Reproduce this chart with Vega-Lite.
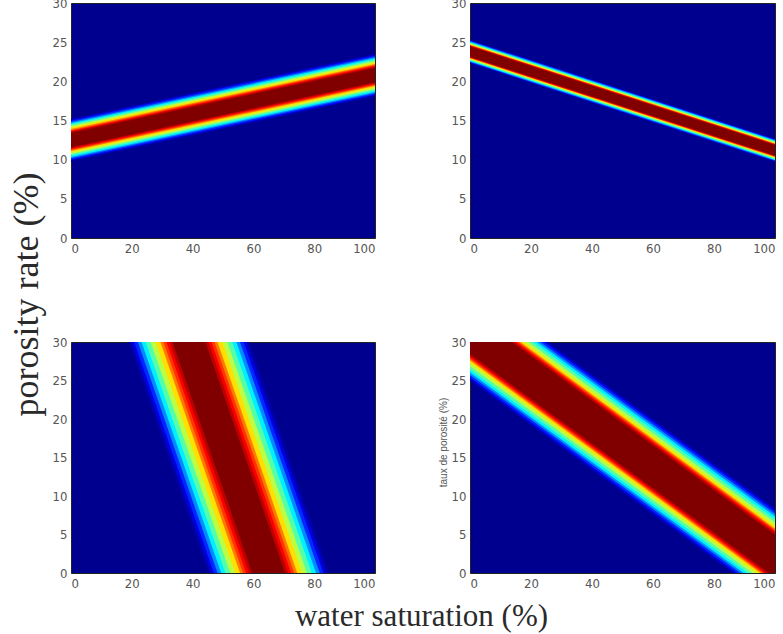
{
  "$schema": "https://vega.github.io/schema/vega-lite/v6.json",
  "background": "white",
  "padding": {"left": 7, "top": -4, "right": 5, "bottom": 5},
  "datasets": {
    "tl": [
      {"t": 0.02, "x": 0, "lo": 9.75, "hi": 15.25}, {"t": 0.02, "x": 100, "lo": 18.05, "hi": 23.55},
      {"t": 0.08, "x": 0, "lo": 9.89, "hi": 15.11}, {"t": 0.08, "x": 100, "lo": 18.19, "hi": 23.41},
      {"t": 0.15, "x": 0, "lo": 10.02, "hi": 14.98}, {"t": 0.15, "x": 100, "lo": 18.32, "hi": 23.28},
      {"t": 0.25, "x": 0, "lo": 10.19, "hi": 14.81}, {"t": 0.25, "x": 100, "lo": 18.49, "hi": 23.11},
      {"t": 0.35, "x": 0, "lo": 10.35, "hi": 14.65}, {"t": 0.35, "x": 100, "lo": 18.65, "hi": 22.95},
      {"t": 0.45, "x": 0, "lo": 10.52, "hi": 14.48}, {"t": 0.45, "x": 100, "lo": 18.82, "hi": 22.78},
      {"t": 0.55, "x": 0, "lo": 10.71, "hi": 14.29}, {"t": 0.55, "x": 100, "lo": 19.01, "hi": 22.59},
      {"t": 0.65, "x": 0, "lo": 10.90, "hi": 14.10}, {"t": 0.65, "x": 100, "lo": 19.20, "hi": 22.40},
      {"t": 0.75, "x": 0, "lo": 11.10, "hi": 13.90}, {"t": 0.75, "x": 100, "lo": 19.40, "hi": 22.20},
      {"t": 0.82, "x": 0, "lo": 11.23, "hi": 13.77}, {"t": 0.82, "x": 100, "lo": 19.53, "hi": 22.07},
      {"t": 0.88, "x": 0, "lo": 11.34, "hi": 13.66}, {"t": 0.88, "x": 100, "lo": 19.64, "hi": 21.96},
      {"t": 0.94, "x": 0, "lo": 11.45, "hi": 13.55}, {"t": 0.94, "x": 100, "lo": 19.75, "hi": 21.85},
      {"t": 1.00, "x": 0, "lo": 11.59, "hi": 13.41}, {"t": 1.00, "x": 100, "lo": 19.89, "hi": 21.71}
    ],
    "tr": [
      {"t": 0.02, "x": 0, "lo": 22.30, "hi": 25.30}, {"t": 0.02, "x": 100, "lo": 9.70, "hi": 12.70},
      {"t": 0.08, "x": 0, "lo": 22.36, "hi": 25.24}, {"t": 0.08, "x": 100, "lo": 9.76, "hi": 12.64},
      {"t": 0.15, "x": 0, "lo": 22.42, "hi": 25.18}, {"t": 0.15, "x": 100, "lo": 9.82, "hi": 12.58},
      {"t": 0.25, "x": 0, "lo": 22.49, "hi": 25.11}, {"t": 0.25, "x": 100, "lo": 9.89, "hi": 12.51},
      {"t": 0.35, "x": 0, "lo": 22.57, "hi": 25.03}, {"t": 0.35, "x": 100, "lo": 9.97, "hi": 12.43},
      {"t": 0.45, "x": 0, "lo": 22.66, "hi": 24.94}, {"t": 0.45, "x": 100, "lo": 10.06, "hi": 12.34},
      {"t": 0.55, "x": 0, "lo": 22.76, "hi": 24.84}, {"t": 0.55, "x": 100, "lo": 10.16, "hi": 12.24},
      {"t": 0.65, "x": 0, "lo": 22.87, "hi": 24.73}, {"t": 0.65, "x": 100, "lo": 10.27, "hi": 12.13},
      {"t": 0.75, "x": 0, "lo": 22.94, "hi": 24.66}, {"t": 0.75, "x": 100, "lo": 10.34, "hi": 12.06},
      {"t": 0.82, "x": 0, "lo": 22.99, "hi": 24.61}, {"t": 0.82, "x": 100, "lo": 10.39, "hi": 12.01},
      {"t": 0.88, "x": 0, "lo": 23.03, "hi": 24.57}, {"t": 0.88, "x": 100, "lo": 10.43, "hi": 11.97},
      {"t": 0.94, "x": 0, "lo": 23.08, "hi": 24.52}, {"t": 0.94, "x": 100, "lo": 10.48, "hi": 11.92},
      {"t": 1.00, "x": 0, "lo": 23.14, "hi": 24.46}, {"t": 1.00, "x": 100, "lo": 10.54, "hi": 11.86}
    ],
    "bl": [
      {"t": 0.02, "y": 0, "lo": 45.0, "hi": 85.0}, {"t": 0.02, "y": 30, "lo": 18.8, "hi": 58.8},
      {"t": 0.08, "y": 0, "lo": 46.0, "hi": 84.0}, {"t": 0.08, "y": 30, "lo": 19.8, "hi": 57.8},
      {"t": 0.15, "y": 0, "lo": 47.0, "hi": 83.0}, {"t": 0.15, "y": 30, "lo": 20.8, "hi": 56.8},
      {"t": 0.25, "y": 0, "lo": 48.2, "hi": 81.8}, {"t": 0.25, "y": 30, "lo": 22.0, "hi": 55.6},
      {"t": 0.35, "y": 0, "lo": 49.4, "hi": 80.6}, {"t": 0.35, "y": 30, "lo": 23.2, "hi": 54.4},
      {"t": 0.45, "y": 0, "lo": 50.8, "hi": 79.2}, {"t": 0.45, "y": 30, "lo": 24.6, "hi": 53.0},
      {"t": 0.55, "y": 0, "lo": 52.4, "hi": 77.6}, {"t": 0.55, "y": 30, "lo": 26.2, "hi": 51.4},
      {"t": 0.65, "y": 0, "lo": 54.0, "hi": 76.0}, {"t": 0.65, "y": 30, "lo": 27.8, "hi": 49.8},
      {"t": 0.75, "y": 0, "lo": 55.6, "hi": 74.4}, {"t": 0.75, "y": 30, "lo": 29.4, "hi": 48.2},
      {"t": 0.82, "y": 0, "lo": 56.6, "hi": 73.4}, {"t": 0.82, "y": 30, "lo": 30.4, "hi": 47.2},
      {"t": 0.88, "y": 0, "lo": 57.6, "hi": 72.4}, {"t": 0.88, "y": 30, "lo": 31.4, "hi": 46.2},
      {"t": 0.94, "y": 0, "lo": 58.6, "hi": 71.4}, {"t": 0.94, "y": 30, "lo": 32.4, "hi": 45.2},
      {"t": 1.00, "y": 0, "lo": 59.6, "hi": 70.4}, {"t": 1.00, "y": 30, "lo": 33.4, "hi": 44.2}
    ],
    "br": [
      {"t": 0.02, "x": 0, "lo": 24.90, "hi": 37.50}, {"t": 0.02, "x": 100, "lo": -4.10, "hi": 8.50},
      {"t": 0.08, "x": 0, "lo": 25.15, "hi": 37.25}, {"t": 0.08, "x": 100, "lo": -3.85, "hi": 8.25},
      {"t": 0.15, "x": 0, "lo": 25.40, "hi": 37.00}, {"t": 0.15, "x": 100, "lo": -3.60, "hi": 8.00},
      {"t": 0.25, "x": 0, "lo": 25.72, "hi": 36.68}, {"t": 0.25, "x": 100, "lo": -3.28, "hi": 7.68},
      {"t": 0.35, "x": 0, "lo": 26.03, "hi": 36.37}, {"t": 0.35, "x": 100, "lo": -2.97, "hi": 7.37},
      {"t": 0.45, "x": 0, "lo": 26.41, "hi": 35.99}, {"t": 0.45, "x": 100, "lo": -2.59, "hi": 6.99},
      {"t": 0.55, "x": 0, "lo": 26.85, "hi": 35.55}, {"t": 0.55, "x": 100, "lo": -2.15, "hi": 6.55},
      {"t": 0.65, "x": 0, "lo": 27.29, "hi": 35.11}, {"t": 0.65, "x": 100, "lo": -1.71, "hi": 6.11},
      {"t": 0.75, "x": 0, "lo": 27.61, "hi": 34.79}, {"t": 0.75, "x": 100, "lo": -1.39, "hi": 5.79},
      {"t": 0.82, "x": 0, "lo": 27.80, "hi": 34.60}, {"t": 0.82, "x": 100, "lo": -1.20, "hi": 5.60},
      {"t": 0.88, "x": 0, "lo": 27.99, "hi": 34.41}, {"t": 0.88, "x": 100, "lo": -1.01, "hi": 5.41},
      {"t": 0.94, "x": 0, "lo": 28.18, "hi": 34.22}, {"t": 0.94, "x": 100, "lo": -0.82, "hi": 5.22},
      {"t": 1.00, "x": 0, "lo": 28.43, "hi": 33.97}, {"t": 1.00, "x": 100, "lo": -0.57, "hi": 4.97}
    ]
  },
  "config": {
    "view": {"fill": "#00008F", "stroke": "#222222", "strokeWidth": 1},
    "axis": {
      "domain": false,
      "ticks": false,
      "grid": false,
      "labelFont": "'Liberation Sans Narrow', 'DejaVu Sans Condensed', sans-serif",
      "labelFontSize": 13,
      "labelColor": "#555555",
      "labelPadding": 4
    },
    "legend": {"disable": true}
  },
  "columns": 2,
  "spacing": {"row": 104, "column": 95},
  "bounds": "flush",
  "concat": [
    {
      "width": 304,
      "height": 235,
      "data": {"name": "tl"},
      "mark": {"type": "area", "clip": true},
      "encoding": {
        "x": {"field": "x", "type": "quantitative", "scale": {"domain": [0, 100], "nice": false}, "axis": {"values": [0, 20, 40, 60, 80, 100], "title": null}},
        "y": {"field": "lo", "type": "quantitative", "stack": null, "scale": {"domain": [0, 30], "nice": false},
          "axis": {"values": [0, 5, 10, 15, 20, 25, 30], "title": "porosity rate (%)", "titleFont": "Liberation Serif", "titleFontSize": 36, "titleFontWeight": "normal", "titleColor": "#2a2a2a", "titleAngle": -90, "titleAlign": "center", "titleBaseline": "middle", "titleX": -45, "titleY": 291}},
        "y2": {"field": "hi"},
        "detail": {"field": "t", "type": "nominal"},
        "color": {"field": "t", "type": "quantitative", "scale": {"domain": [0, 0.111, 0.365, 0.619, 0.873, 1], "range": ["#00008F", "#0000FF", "#00FFFF", "#FFFF00", "#FF0000", "#800000"], "interpolate": "rgb"}}
      }
    },
    {
      "width": 305,
      "height": 235,
      "data": {"name": "tr"},
      "mark": {"type": "area", "clip": true},
      "encoding": {
        "x": {"field": "x", "type": "quantitative", "scale": {"domain": [0, 100], "nice": false}, "axis": {"values": [0, 20, 40, 60, 80, 100], "title": null}},
        "y": {"field": "lo", "type": "quantitative", "stack": null, "scale": {"domain": [0, 30], "nice": false}, "axis": {"values": [0, 5, 10, 15, 20, 25, 30], "title": null}},
        "y2": {"field": "hi"},
        "detail": {"field": "t", "type": "nominal"},
        "color": {"field": "t", "type": "quantitative", "scale": {"domain": [0, 0.111, 0.365, 0.619, 0.873, 1], "range": ["#00008F", "#0000FF", "#00FFFF", "#FFFF00", "#FF0000", "#800000"], "interpolate": "rgb"}}
      }
    },
    {
      "width": 304,
      "height": 231,
      "data": {"name": "bl"},
      "mark": {"type": "area", "clip": true, "orient": "horizontal"},
      "encoding": {
        "y": {"field": "y", "type": "quantitative", "scale": {"domain": [0, 30], "nice": false}, "axis": {"values": [0, 5, 10, 15, 20, 25, 30], "title": null}},
        "x": {"field": "lo", "type": "quantitative", "stack": null, "scale": {"domain": [0, 100], "nice": false},
          "axis": {"values": [0, 20, 40, 60, 80, 100], "title": "water saturation (%)", "titleFont": "Liberation Serif", "titleFontSize": 31, "titleFontWeight": "normal", "titleColor": "#2a2a2a", "titleAlign": "center", "titleBaseline": "alphabetic", "titleX": 350, "titleY": 52}},
        "x2": {"field": "hi"},
        "detail": {"field": "t", "type": "nominal"},
        "color": {"field": "t", "type": "quantitative", "scale": {"domain": [0, 0.111, 0.365, 0.619, 0.873, 1], "range": ["#00008F", "#0000FF", "#00FFFF", "#FFFF00", "#FF0000", "#800000"], "interpolate": "rgb"}}
      }
    },
    {
      "width": 305,
      "height": 231,
      "data": {"name": "br"},
      "mark": {"type": "area", "clip": true},
      "encoding": {
        "x": {"field": "x", "type": "quantitative", "scale": {"domain": [0, 100], "nice": false}, "axis": {"values": [0, 20, 40, 60, 80, 100], "title": null}},
        "y": {"field": "lo", "type": "quantitative", "stack": null, "scale": {"domain": [0, 30], "nice": false},
          "axis": {"values": [0, 5, 10, 15, 20, 25, 30], "title": "taux de porosité (%)", "titleFont": "Liberation Sans", "titleFontSize": 10, "titleFontWeight": "normal", "titleColor": "#555555", "titleAngle": -90, "titleAlign": "center", "titleBaseline": "middle", "titleX": -27, "titleY": 100}},
        "y2": {"field": "hi"},
        "detail": {"field": "t", "type": "nominal"},
        "color": {"field": "t", "type": "quantitative", "scale": {"domain": [0, 0.111, 0.365, 0.619, 0.873, 1], "range": ["#00008F", "#0000FF", "#00FFFF", "#FFFF00", "#FF0000", "#800000"], "interpolate": "rgb"}}
      }
    }
  ]
}
